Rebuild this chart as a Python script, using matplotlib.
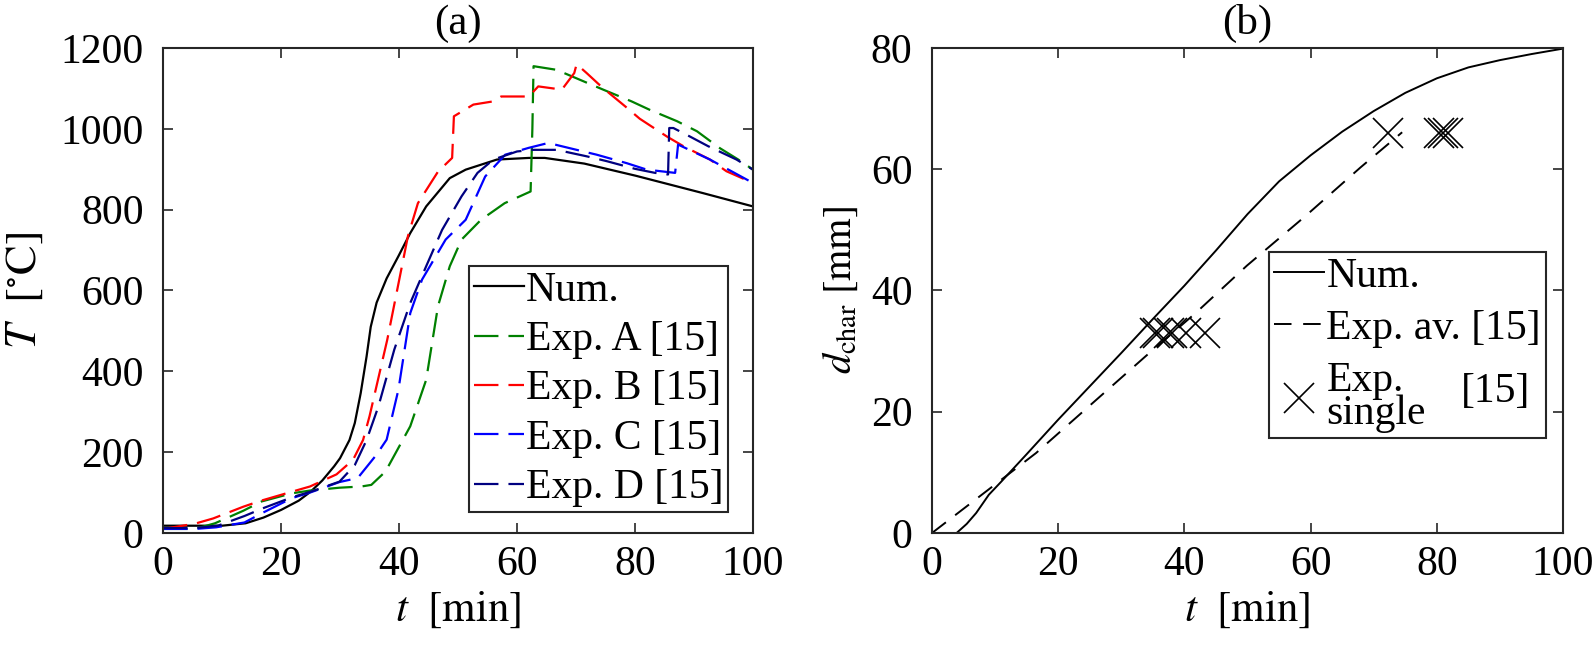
import numpy as np
import matplotlib
matplotlib.use("Agg")
import matplotlib.pyplot as plt

plt.rcParams["font.family"] = ["Liberation Serif", "DejaVu Serif"]
plt.rcParams["mathtext.fontset"] = "stix"
plt.rcParams["font.size"] = 31

# (a) temperature, numerical
t_num_a = [0, 10, 14, 17, 20, 23, 25, 27, 29, 30, 31.6, 32.5, 33.5, 34.5, 35.2, 36.2, 37.9,
           39.9, 41.9, 44.6, 48.6, 51.3, 56.6, 62, 64.7, 71.4, 80.1, 91.5, 100]
T_num = [18, 18, 24, 38, 57, 80, 102, 130, 165, 185, 230, 272, 346, 437, 510, 570, 630,
         685, 742, 808, 878, 899, 924, 928, 928, 914, 884, 841, 808]

# (a) experiments A-D
t_A = [0, 5.4, 8.8, 13.6, 16.7, 21.8, 24.9, 29.9, 33.6, 35.3, 37.7, 41.9, 44.6, 46.6, 48.6,
       50.6, 53.9, 57.9, 62.3, 62.6, 62.8, 66.7, 71.2, 74.6, 79.4, 82.5, 87.1, 90.5, 94.4, 97.5, 100]
T_A = [10, 10, 24, 55, 78, 98, 105, 112, 115, 119, 152, 264, 379, 561, 660,
       726, 775, 816, 845, 1000, 1155, 1146, 1118, 1097, 1068, 1047, 1019, 994, 952, 924, 899]

t_B = [0, 5.4, 8.5, 13.6, 16.4, 21.8, 24.9, 29.4, 32.2, 33.9, 35, 38, 41.5, 43.2, 46.6, 49,
       49.3, 52.6, 56, 57.3, 62, 63.6, 67.6, 69.7, 70.1, 71.8, 74.4, 78.3, 80.8, 85.4, 88.2, 92.7, 95.5, 100]
T_B = [10, 23, 36, 65, 79, 102, 115, 145, 181, 230, 289, 478, 734, 816, 894, 928,
       1031, 1060, 1068, 1080, 1080, 1105, 1097, 1138, 1160, 1138, 1103, 1056, 1025, 981, 957, 924, 895, 866]

t_C = [0, 5.4, 9, 13.8, 16.9, 21.8, 25.1, 29.9, 33, 36.2, 37.9, 39.9, 41.9, 43.9, 47.9, 51.3,
       54.6, 58, 62, 65.3, 70.1, 73.5, 78.6, 82, 86.8, 87.3, 92.7, 100]
T_C = [10, 10, 14, 26, 50, 86, 101, 126, 136, 194, 231, 355, 544, 627, 726, 775,
       882, 936, 953, 965, 948, 936, 915, 899, 891, 961, 924, 866]

t_D = [0, 5.4, 9.3, 13.8, 16.9, 21.8, 25.4, 29.9, 32.5, 34.5, 36.5, 39.2, 41.9, 44.6, 47.3,
       50.6, 53.3, 56, 60, 62.7, 66.7, 71.8, 75.2, 80, 83.4, 85.6, 85.8, 86.5, 89.3, 92.4, 97.2, 100]
T_D = [12, 12, 18, 42, 61, 88, 104, 127, 168, 230, 313, 454, 569, 660, 750,
       833, 891, 924, 944, 948, 948, 932, 920, 901, 891, 887, 1002, 1002, 981, 957, 924, 899]

# (b) char depth
t_num_b = [3.9, 5.5, 7, 9, 11, 15, 20, 25, 30, 35, 40, 45, 50, 55, 60, 65, 70, 75, 80, 85, 90, 95, 100]
d_num = [0, 1.5, 3.3, 6.3, 8.5, 13, 18.7, 24.2, 29.7, 35.3, 40.8, 46.6, 52.6, 58, 62.3,
         66.2, 69.6, 72.6, 75, 76.8, 78, 79, 79.9]

t_av = [0, 6.5, 16.5, 25.2, 33.9, 41.9, 49.9, 59.2, 67.9, 74.5]
d_av = [0, 5.2, 13.2, 21.2, 29.2, 36.4, 44.1, 52.3, 60.3, 66.1]

t_single = [35.3, 35.8, 37.5, 38.0, 40.2, 43.3, 72.3, 80.3, 81.0, 81.8]
d_single = [33, 33, 33, 33, 33, 33, 66, 66, 66, 66]

fig = plt.figure(figsize=(15.94, 6.53), dpi=100)
ax1 = fig.add_axes([0.1023, 0.1838, 0.3701, 0.7427])
ax2 = fig.add_axes([0.5847, 0.1838, 0.3959, 0.7427])

dash = (11, 4.5)
lw = 1.6
ax1.plot(t_num_a, T_num, color="k", lw=lw, label="Num.")
ax1.plot(t_A, T_A, color=(0, 0.5, 0), lw=lw, dashes=dash, label="Exp. A [15]")
ax1.plot(t_B, T_B, color=(1, 0, 0), lw=lw, dashes=dash, label="Exp. B [15]")
ax1.plot(t_C, T_C, color=(0, 0, 1), lw=lw, dashes=dash, label="Exp. C [15]")
ax1.plot(t_D, T_D, color=(0, 0, 0.5), lw=lw, dashes=dash, label="Exp. D [15]")

ax1.set_xlim(0, 100)
ax1.set_ylim(0, 1200)
ax1.set_xticks(np.arange(0, 101, 20))
ax1.set_yticks(np.arange(0, 1201, 200))
ax1.set_xlabel(r"$t\ \ [\mathrm{min}]$", fontsize=31)
ax1.set_ylabel(r"$T\ \ [^{\circ}\mathrm{C}]$", fontsize=32)
ax1.yaxis.set_label_coords(-0.2, 0.5)
ax1.set_title("(a)", pad=10, fontsize=31)
leg1 = ax1.legend(loc="lower right", bbox_to_anchor=(0.958, 0.043), borderaxespad=0,
                  fancybox=False, edgecolor="0.15", framealpha=1, handlelength=1.2,
                  handletextpad=0.05, labelspacing=0.26, borderpad=0.12, fontsize=30)
leg1.get_frame().set_linewidth(1.5)

ax2.plot(t_num_b, d_num, color="k", lw=1.4, label="Num.")
ax2.plot(t_av, d_av, color="k", lw=1.4, dashes=(9, 6), label="Exp. av. [15]")
ax2.plot(t_single, d_single, ls="none", marker="x", ms=22, mew=1.2, color="k",
         label="Exp.\nsingle")

ax2.set_xlim(0, 100)
ax2.set_ylim(0, 80)
ax2.set_xticks(np.arange(0, 101, 20))
ax2.set_yticks(np.arange(0, 81, 20))
ax2.set_xlabel(r"$t\ \ [\mathrm{min}]$", fontsize=31)
ax2.set_ylabel(r"$d_{\mathrm{char}}\ [\mathrm{mm}]$", fontsize=29)
ax2.yaxis.set_label_coords(-0.114, 0.5)
ax2.set_title("(b)", pad=10, fontsize=31)
leg2 = ax2.legend(loc="lower right", bbox_to_anchor=(0.973, 0.196), borderaxespad=0,
                  fancybox=False, edgecolor="0.15", framealpha=1, handlelength=1.2,
                  handletextpad=0.05, labelspacing=0.33, borderpad=0.12, fontsize=30)
leg2.get_frame().set_linewidth(1.5)
for txt in leg2.get_texts():
    txt.set_linespacing(0.8)
fig.text(1461 / 1594, 1 - 392 / 653, "[15]", fontsize=30, va="center", ha="left")

for ax in (ax1, ax2):
    for s in ax.spines.values():
        s.set_linewidth(1.5)
        s.set_color("0.15")
    ax.tick_params(direction="in", length=7, width=1.2, top=True, right=True,
                   color="0.15", labelsize=30)
    ax.tick_params(axis="x", pad=9)
    ax.tick_params(axis="y", pad=14)

fig.savefig("out.png", dpi=100)
